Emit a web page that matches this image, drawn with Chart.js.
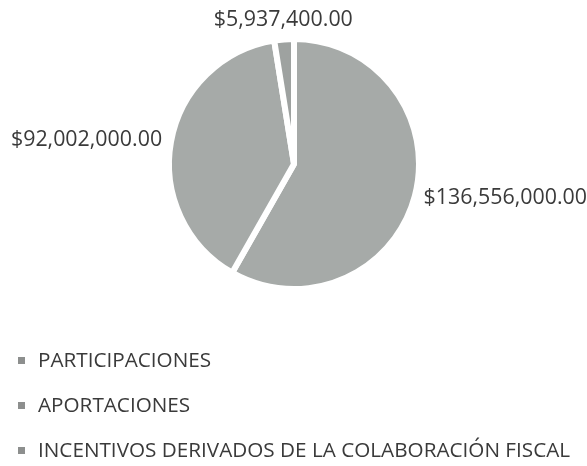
<!DOCTYPE html>
<html>
<head>
<meta charset="utf-8">
<script src="https://cdn.jsdelivr.net/npm/chart.js@4"></script>
<style>
  html, body { margin: 0; padding: 0; background: #fff; }
  #wrap { width: 587px; height: 466px; position: relative; }
</style>
</head>
<body>
<div id="wrap"><canvas id="pieChart"></canvas></div>
<script>
// Data
const labels = ['PARTICIPACIONES', 'APORTACIONES', 'INCENTIVOS DERIVADOS DE LA COLABORACIÓN FISCAL'];
const values = [136556000, 92002000, 5937400];
const sliceColors = ['#a6aaa8', '#a6aaa8', '#9ea2a0'];
const markerColors = ['#8d8f8e', '#8d8f8e', '#8d8f8e'];

const fontFamily = "'Open Sans', sans-serif";

// Helper to format values like $136,556,000.00
function formatMoney(v) {
  return '$' + v.toLocaleString('en-US', { minimumFractionDigits: 2, maximumFractionDigits: 2 });
}

// Draws the value labels just outside each slice
const outsideLabels = {
  id: 'outsideLabels',
  afterDatasetsDraw(chart) {
    const ctx = chart.ctx;
    const meta = chart.getDatasetMeta(0);
    ctx.save();
    ctx.font = '21.4px ' + fontFamily;
    ctx.fillStyle = '#3a3a3a';
    meta.data.forEach((arc, i) => {
      const mid = (arc.startAngle + arc.endAngle) / 2;
      const r = arc.outerRadius + 9;
      const cos = Math.cos(mid);
      const sin = Math.sin(mid);
      const x = arc.x + cos * r;
      const y = arc.y + sin * r;
      if (Math.abs(cos) > 0.5) {
        ctx.textAlign = cos > 0 ? 'left' : 'right';
        ctx.textBaseline = 'middle';
      } else {
        ctx.textAlign = 'center';
        ctx.textBaseline = sin < 0 ? 'bottom' : 'top';
      }
      ctx.fillText(formatMoney(values[i]), x, y);
    });
    ctx.restore();
  }
};

// Vertical legend under the pie
const stackedLegend = {
  id: 'stackedLegend',
  afterDraw(chart) {
    const ctx = chart.ctx;
    const top = chart.chartArea.bottom + 69;
    const rowGap = 45;
    ctx.save();
    ctx.font = '20.7px ' + fontFamily;
    ctx.textAlign = 'left';
    ctx.textBaseline = 'middle';
    labels.forEach((label, i) => {
      const y = top + i * rowGap;
      ctx.fillStyle = markerColors[i];
      ctx.fillRect(18, y - 4, 7, 7);
      ctx.fillStyle = '#3a3a3a';
      ctx.fillText(label, 38, y);
    });
    ctx.restore();
  }
};

const ctx = document.getElementById('pieChart').getContext('2d');
new Chart(ctx, {
  type: 'pie',
  data: {
    labels: labels,
    datasets: [{
      data: values,
      backgroundColor: sliceColors,
      borderColor: '#ffffff',
      borderWidth: 6
    }]
  },
  options: {
    responsive: true,
    maintainAspectRatio: false,
    animation: false,
    layout: {
      padding: { top: 36, bottom: 174, left: 1, right: 0 }
    },
    plugins: {
      legend: { display: false },
      tooltip: { enabled: false }
    }
  },
  plugins: [outsideLabels, stackedLegend]
});
</script>
</body>
</html>
